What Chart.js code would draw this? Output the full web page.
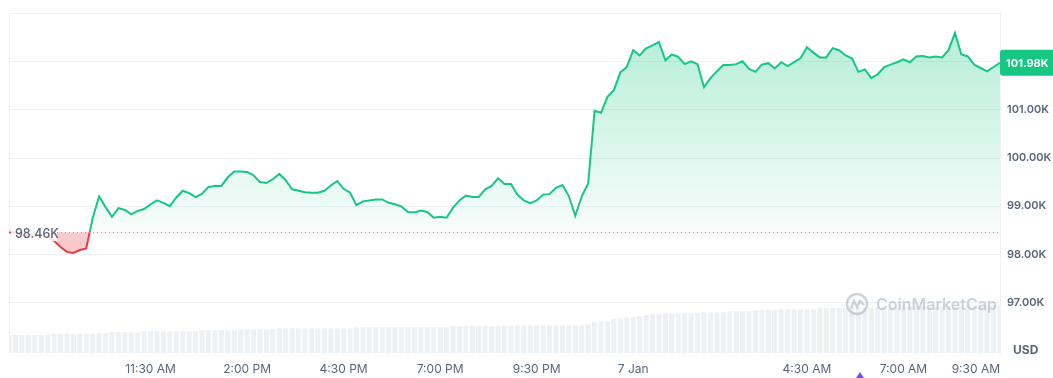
<!DOCTYPE html>
<html>
<head>
<meta charset="utf-8">
<script src="https://cdn.jsdelivr.net/npm/chart.js@4.4.1/dist/chart.umd.min.js"></script>
<style>
  body { margin: 0; background: #fff; }
  #wrap { width: 1053px; height: 378px; position: relative; }
</style>
</head>
<body>
<div id="wrap"><canvas id="priceChart"></canvas></div>
<script>
// BTC price, 10 minute steps from 7:50 AM (6 Jan) to 9:30 AM (7 Jan), in thousands of USD
const prices = [
  98.46, 98.44, 98.40, 98.40, 98.38, 98.40, 98.36, 98.28, 98.15, 98.05,
  98.03, 98.09, 98.12, 98.75, 99.20, 98.98, 98.78, 98.96, 98.92, 98.83,
  98.90, 98.94, 99.04, 99.12, 99.07, 99.00, 99.18, 99.32, 99.27, 99.19,
  99.26, 99.40, 99.42, 99.42, 99.60, 99.72, 99.72, 99.71, 99.64, 99.50,
  99.48, 99.56, 99.67, 99.54, 99.35, 99.32, 99.29, 99.28, 99.28, 99.32,
  99.43, 99.52, 99.36, 99.28, 99.02, 99.10, 99.12, 99.14, 99.14, 99.07,
  99.04, 98.99, 98.88, 98.87, 98.91, 98.88, 98.76, 98.78, 98.76, 98.97,
  99.12, 99.22, 99.19, 99.19, 99.35, 99.42, 99.58, 99.46, 99.46, 99.24,
  99.12, 99.06, 99.12, 99.24, 99.25, 99.38, 99.44, 99.21, 98.80, 99.20,
  99.47, 100.98, 100.94, 101.27, 101.41, 101.78, 101.89, 102.24, 102.13, 102.28,
  102.34, 102.41, 102.03, 102.15, 102.10, 101.95, 102.01, 101.95, 101.47, 101.66,
  101.80, 101.93, 101.93, 101.95, 102.01, 101.85, 101.79, 101.94, 101.97, 101.86,
  101.99, 101.91, 101.99, 102.07, 102.30, 102.19, 102.09, 102.09, 102.28, 102.24,
  102.13, 102.07, 101.79, 101.84, 101.66, 101.74, 101.89, 101.94, 101.99, 102.05,
  101.99, 102.11, 102.12, 102.09, 102.11, 102.09, 102.24, 102.60, 102.15, 102.11,
  101.94, 101.87, 101.80, 101.89, 101.98
];

// 24h volume (billions USD), same steps
const volumes = [
  15.8, 15.8, 15.8, 15.8, 15.8, 15.8, 15.8, 16.7, 16.7, 16.7,
  16.7, 16.7, 16.7, 16.7, 17.5, 17.5, 18.4, 18.4, 18.4, 18.4,
  18.4, 19.3, 19.3, 19.3, 19.3, 19.3, 19.3, 19.3, 19.3, 19.3,
  20.2, 20.2, 20.2, 20.2, 20.2, 20.2, 21.0, 21.0, 21.0, 21.0,
  21.0, 21.0, 21.9, 21.9, 21.9, 21.9, 21.9, 21.9, 21.9, 21.9,
  21.9, 21.9, 21.9, 21.9, 22.8, 22.8, 22.8, 22.8, 22.8, 22.8,
  22.8, 22.8, 22.8, 22.8, 22.8, 22.8, 22.8, 22.8, 22.8, 23.7,
  23.7, 23.7, 23.7, 23.7, 23.7, 23.7, 23.7, 23.7, 23.7, 24.6,
  24.6, 24.6, 24.6, 24.6, 24.6, 24.6, 24.6, 24.6, 24.6, 24.6,
  25.4, 27.2, 28.1, 28.1, 29.8, 30.7, 31.6, 31.6, 32.4, 33.3,
  34.2, 34.2, 35.1, 35.1, 35.1, 35.1, 35.1, 35.1, 36.0, 36.0,
  36.0, 36.0, 36.8, 36.8, 36.8, 36.8, 37.7, 37.7, 37.7, 37.7,
  38.6, 38.6, 38.6, 38.6, 38.6, 38.6, 39.5, 39.5, 39.5, 39.5,
  39.5, 40.3, 40.3, 40.3, 40.3, 40.3, 40.3, 40.3, 40.3, 41.2,
  41.2, 41.2, 41.2, 41.2, 41.2, 41.2, 41.2, 41.2, 41.2, 42.1,
  42.1, 42.1, 42.1, 42.1, 42.1
];

// tick positions in minutes after midnight of 6 Jan, and their labels
const xTickMinutes = [690, 840, 990, 1140, 1290, 1440, 1710, 1860, 2010];
const xTickLabels = ['11:30 AM', '2:00 PM', '4:30 PM', '7:00 PM', '9:30 PM', '7 Jan', '4:30 AM', '7:00 AM', '9:30 AM'];
const yTickValues = [97, 98, 99, 100, 101];
const openPrice = 98.46;
const lastPrice = 101.98;

const GREEN = '#16c784';
const RED = '#ea3943';
const TEXT = '#58667e';
const GRID = '#eff2f5';

const startMinute = 7 * 60 + 50;
const stepMinutes = 10;
const timeMinutes = prices.map((_, i) => startMinute + i * stepMinutes);

function basePixel(chart) {
  return chart.scales.y.getPixelForValue(openPrice);
}

const overlay = {
  id: 'overlay',
  beforeDatasetsDraw(chart) {
    const { ctx, chartArea: a } = chart;
    ctx.save();
    ctx.strokeStyle = GRID;
    ctx.lineWidth = 1;
    ctx.beginPath();
    ctx.moveTo(a.left + 0.5, a.top);
    ctx.lineTo(a.left + 0.5, a.bottom);
    ctx.stroke();
    ctx.restore();
  },
  afterDatasetsDraw(chart) {
    const { ctx, chartArea: a } = chart;
    const base = basePixel(chart);
    ctx.save();

    // dotted open price line
    ctx.strokeStyle = '#9aa3b2';
    ctx.lineWidth = 1;
    ctx.setLineDash([1, 3]);
    ctx.beginPath();
    ctx.moveTo(a.left + 48, Math.round(base) + 0.5);
    ctx.lineTo(a.right, Math.round(base) + 0.5);
    ctx.stroke();
    ctx.setLineDash([]);

    // open price label
    ctx.fillStyle = 'rgba(255,255,255,0.85)';
    ctx.fillRect(a.left + 2, base - 8, 46, 17);
    ctx.font = '500 12.5px Inter, sans-serif';
    ctx.fillStyle = TEXT;
    ctx.textBaseline = 'middle';
    ctx.textAlign = 'left';
    ctx.fillText(openPrice.toFixed(2) + 'K', a.left + 6, base + 2);

    // last price tag
    const py = chart.scales.y.getPixelForValue(lastPrice);
    ctx.fillStyle = GREEN;
    ctx.beginPath();
    ctx.roundRect(a.right, py - 13, chart.width - a.right, 26, [3, 0, 0, 3]);
    ctx.fill();
    ctx.fillStyle = '#fff';
    ctx.font = '700 11px Inter, sans-serif';
    ctx.fillText(lastPrice.toFixed(2) + 'K', a.right + 6, py + 1);

    // currency
    ctx.fillStyle = TEXT;
    ctx.font = '700 12px Inter, sans-serif';
    ctx.fillText('USD', a.right + 13, a.bottom - 3);

    // watermark
    const cx = 857, cy = 304;
    ctx.strokeStyle = 'rgba(170,180,196,0.6)';
    ctx.lineWidth = 2.4;
    ctx.beginPath();
    ctx.arc(cx, cy, 10, 0, Math.PI * 2);
    ctx.stroke();
    ctx.beginPath();
    ctx.moveTo(cx - 6, cy + 4);
    ctx.lineTo(cx - 3, cy - 3);
    ctx.lineTo(cx, cy + 3);
    ctx.lineTo(cx + 3, cy - 3);
    ctx.lineTo(cx + 7, cy + 1);
    ctx.stroke();
    ctx.fillStyle = 'rgba(170,180,196,0.6)';
    ctx.font = '600 16px Inter, sans-serif';
    ctx.fillText('CoinMarketCap', 876, cy + 1);

    // event marker
    ctx.fillStyle = '#7b4cf0';
    ctx.beginPath();
    ctx.moveTo(860, 372);
    ctx.lineTo(864, 378);
    ctx.lineTo(856, 378);
    ctx.closePath();
    ctx.fill();

    ctx.restore();
  }
};

const chartCtx = document.getElementById('priceChart').getContext('2d');

new Chart(chartCtx, {
  type: 'line',
  data: {
    labels: timeMinutes,
    datasets: [{
      type: 'line',
      data: prices,
      yAxisID: 'y',
      order: 0,
      borderWidth: 2,
      pointRadius: 0,
      tension: 0,
      borderColor: c => {
        const chart = c.chart;
        const a = chart.chartArea;
        if (!a) return GREEN;
        const f = Math.min(Math.max((basePixel(chart) - a.top) / (a.bottom - a.top), 0), 1);
        const g = chart.ctx.createLinearGradient(0, a.top, 0, a.bottom);
        g.addColorStop(0, GREEN);
        g.addColorStop(f, GREEN);
        g.addColorStop(f, RED);
        g.addColorStop(1, RED);
        return g;
      },
      backgroundColor: c => {
        const chart = c.chart;
        const a = chart.chartArea;
        if (!a) return 'rgba(22,199,132,0.15)';
        const g = chart.ctx.createLinearGradient(0, a.top, 0, basePixel(chart));
        g.addColorStop(0, 'rgba(22,199,132,0.34)');
        g.addColorStop(1, 'rgba(22,199,132,0.03)');
        return g;
      },
      fill: { value: openPrice, below: 'rgba(234,57,67,0.27)' }
    }, {
      type: 'bar',
      data: volumes,
      yAxisID: 'vol',
      order: 1,
      backgroundColor: '#eef1f4',
      barPercentage: 0.8,
      categoryPercentage: 1
    }]
  },
  options: {
    responsive: true,
    maintainAspectRatio: false,
    animation: false,
    layout: { padding: { left: 6, top: 11, right: 0, bottom: 0 } },
    plugins: { legend: { display: false }, tooltip: { enabled: false } },
    events: [],
    scales: {
      x: {
        type: 'category',
        offset: false,
        grid: { display: false, drawTicks: false },
        border: { display: false },
        afterFit: s => { s.height = 25; },
        ticks: {
          autoSkip: false,
          maxRotation: 0,
          align: 'inner',
          padding: 9,
          color: TEXT,
          font: { family: 'Inter', size: 12, weight: '400' },
          callback: function (v, i) {
            const k = xTickMinutes.indexOf(timeMinutes[i]);
            return k >= 0 ? xTickLabels[k] : '';
          }
        }
      },
      y: {
        position: 'right',
        min: 95.95,
        max: 103,
        afterFit: s => { s.width = 53; },
        afterBuildTicks: s => {
          s.ticks = [96, 97, 98, 99, 100, 101, 102, 103].map(v => ({ value: v }));
        },
        grid: {
          drawTicks: false,
          color: c => (c.tick && c.tick.value >= 97) ? GRID : 'rgba(0,0,0,0)'
        },
        border: { display: true, color: GRID },
        ticks: {
          padding: 7,
          color: TEXT,
          font: { family: 'Inter', size: 11, weight: '600' },
          callback: v => yTickValues.includes(v) ? v.toFixed(2) + 'K' : ''
        }
      },
      vol: {
        display: false,
        min: 0,
        max: 300
      }
    }
  },
  plugins: [overlay]
});
</script>
</body>
</html>
